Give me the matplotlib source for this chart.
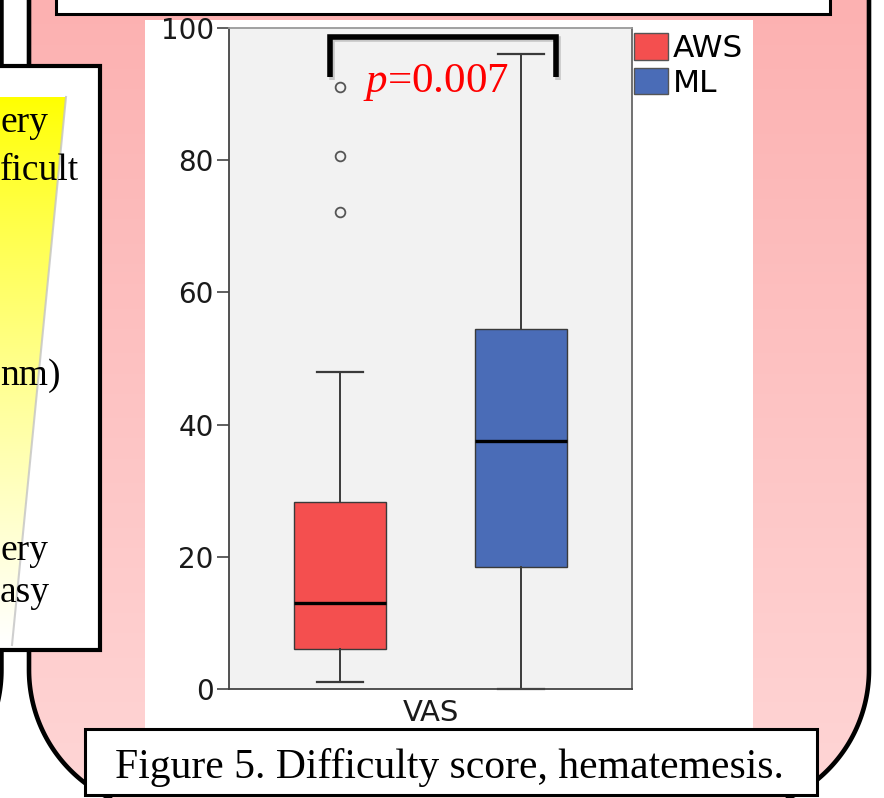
import numpy as np
import matplotlib
matplotlib.use("Agg")
import matplotlib.pyplot as plt
from matplotlib.patches import Rectangle, Polygon, Patch
from matplotlib import patheffects as pe
from matplotlib.colors import to_rgb

plt.rcParams["mathtext.fontset"] = "custom"
plt.rcParams["mathtext.it"] = "Liberation Serif:italic"
plt.rcParams["mathtext.rm"] = "Liberation Serif"

# box plot summary values
groups = ["AWS", "ML"]
box_colors = ["#F44F4F", "#4A6CB7"]
q1 = [6.0, 18.5]
med = [13.0, 37.5]
q3 = [28.3, 54.5]
whislo = [1.0, 0.0]
whishi = [48.0, 96.0]
outliers = [[72.2, 80.6, 91.0], []]
yticks = [0, 20, 40, 60, 80, 100]
xlabel = "VAS"
p_text = "$p$=0.007"
caption = "Figure 5. Difficulty score, hematemesis."
# only the right-hand ends of the scale words are visible in the crop
scale_words = ["ery", "ficult", "nm)", "ery", "asy"]


def rounded_outline(x0, x1, y0, y1, r, n=80):
    # rectangle in pixel coords (y down) with the two bottom corners rounded
    a = np.linspace(np.pi, np.pi / 2, n)
    left = np.c_[x0 + r + r * np.cos(a), y1 - r + r * np.sin(a)]
    b = np.linspace(np.pi / 2, 0, n)
    right = np.c_[x1 - r + r * np.cos(b), y1 - r + r * np.sin(b)]
    return np.vstack([[x0, y0], left, right, [x1, y0]])


fig = plt.figure(figsize=(8.84, 7.98), dpi=100)

# ---- poster background (pixel coordinates) ----
bg = fig.add_axes([0, 0, 1, 1])
bg.axis("off")

bg.add_patch(Polygon(rounded_outline(-400, 1.5, -50, 812, 142), closed=True,
                     fc="white", ec="black", lw=3.2, zorder=1))

pink_pts = rounded_outline(29, 869, -50, 812, 142)
pink_clip = Polygon(pink_pts, closed=True, fc="none", ec="none")
bg.add_patch(pink_clip)
t = np.linspace(0, 1, 200)[:, None, None]
top_c = np.array(to_rgb("#FCB1B1"))
bot_c = np.array(to_rgb("#FFD6D6"))
grad = top_c + (bot_c - top_c) * t
im = bg.imshow(grad, extent=[29, 869, 812, 0], aspect="auto", zorder=1)
im.set_clip_path(pink_clip)
bg.add_patch(Polygon(pink_pts, closed=True, fc="none", ec="black", lw=3.3, zorder=2))

bg.add_patch(Rectangle((145, 20), 608, 708, fc="white", ec="none", zorder=3))
bg.add_patch(Rectangle((56, -20), 774, 34, fc="white", ec="black", lw=2.2, zorder=3))
bg.add_patch(Rectangle((-20, 65.5), 119.5, 584.5, fc="white", ec="black", lw=3, zorder=3))

# yellow scale wedge
wedge = Polygon([(-5, 97), (66, 97), (12, 645), (-5, 645)], closed=True,
                fc="none", ec="none", zorder=4)
bg.add_patch(wedge)
tw = np.linspace(0, 1, 300)[:, None]
wedge_img = np.dstack([np.ones_like(tw), np.ones_like(tw), tw ** 0.85])
wim = bg.imshow(wedge_img, extent=[-5, 66, 645, 97], aspect="auto", zorder=4)
wim.set_clip_path(wedge)
bg.plot([66, 12], [97, 645], color="#C4C4C4", lw=1.5, alpha=0.8, zorder=4)

word_pos = [(0, 132), (0, 180), (0, 385), (0, 560), (0, 602)]
for w, (x, y) in zip(scale_words, word_pos):
    bg.text(x, y, w, ha="left", va="baseline", fontsize=27,
            family="Liberation Serif", zorder=5)

bg.add_patch(Rectangle((85, 728.5), 732, 66.5, fc="white", ec="black", lw=2.2, zorder=6))
bg.text(449, 778, caption, ha="center", va="baseline", fontsize=30,
        family="Liberation Serif", zorder=7)

bg.set_xlim(0, 884)
bg.set_ylim(798, 0)

# ---- box plot ----
ax = fig.add_axes([229 / 884, 1 - 689 / 798, 403 / 884, 661 / 798])
ax.set_facecolor("#F2F2F2")

stats = []
for i, g in enumerate(groups):
    stats.append(dict(label=g, q1=q1[i], med=med[i], q3=q3[i],
                      whislo=whislo[i], whishi=whishi[i], fliers=outliers[i]))

bp = ax.bxp(stats, positions=[0.275, 0.725], widths=0.228, patch_artist=True,
            boxprops=dict(edgecolor="#3a3a3a", linewidth=1.0),
            medianprops=dict(color="black", linewidth=2.4),
            whiskerprops=dict(color="#3a3a3a", linewidth=1.4),
            capprops=dict(color="#3a3a3a", linewidth=1.6),
            flierprops=dict(marker="o", markerfacecolor="none",
                            markeredgecolor="#555555", markersize=7,
                            markeredgewidth=1.3))
for box, c in zip(bp["boxes"], box_colors):
    box.set_facecolor(c)
for cap in bp["caps"]:
    cap.set_clip_on(False)

ax.set_xlim(0, 1)
ax.set_ylim(0, 100)
ax.set_yticks(yticks)
ax.set_xticks([0.5])
ax.set_xticklabels([xlabel])
ax.tick_params(axis="y", length=9, width=1.2, color="#444444", pad=2,
               labelsize=20, labelcolor="#1a1a1a")
ax.tick_params(axis="x", length=0, pad=7, labelsize=21, labelcolor="#1a1a1a")
for side in ["left", "bottom"]:
    ax.spines[side].set_color("#444444")
    ax.spines[side].set_linewidth(1.3)
ax.spines["top"].set_color("#9a9a9a")
ax.spines["right"].set_color("#666666")
ax.spines["top"].set_linewidth(1.3)
ax.spines["right"].set_linewidth(1.3)

handles = [Patch(facecolor=c, edgecolor="#555555", lw=1) for c in box_colors]
ax.legend(handles, groups, loc="upper left", bbox_to_anchor=(1.005, 0.993),
          frameon=False, fontsize=22.5, handlelength=1.1, handleheight=0.95,
          handletextpad=0.15, labelspacing=0.15, borderpad=0, borderaxespad=0)

# significance bracket
ax.plot([0.251, 0.251, 0.811, 0.811], [92.6, 98.7, 98.7, 92.6], color="black",
        lw=4, clip_on=False, solid_joinstyle="miter", solid_capstyle="butt",
        path_effects=[pe.SimpleLineShadow(offset=(1.5, -2), shadow_color="black", alpha=0.18),
                      pe.Normal()])
ax.text(0.333, 90.3, p_text, color="red", fontsize=31, family="Liberation Serif",
        ha="left", va="baseline")

fig.savefig("out.png", dpi=100)
